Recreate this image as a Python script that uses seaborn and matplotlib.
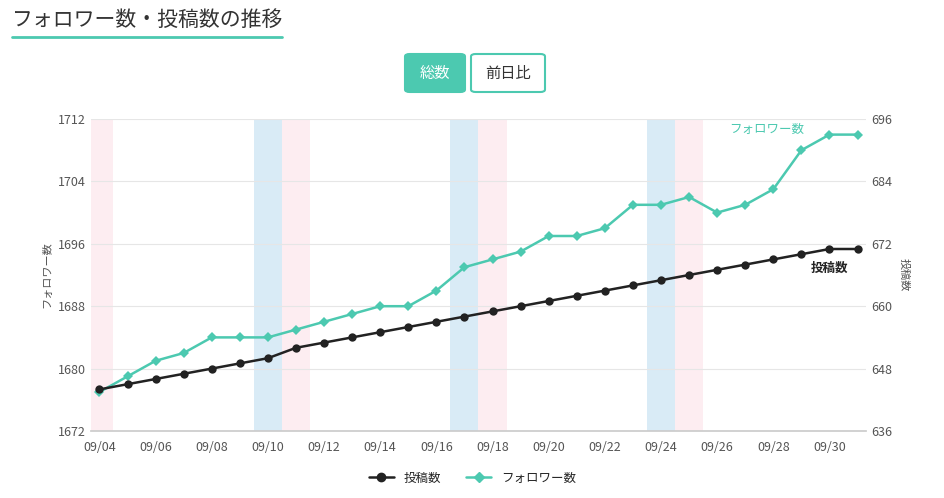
import pandas as pd
import numpy as np
import matplotlib
matplotlib.use('Agg')
import matplotlib.pyplot as plt
import seaborn as sns
from matplotlib.patches import FancyBboxPatch

# data (2022-09-04 .. 2022-10-01)
dates = pd.date_range('2022-09-04', '2022-10-01', freq='D')
followers = [1677, 1679, 1681, 1682, 1684, 1684, 1684, 1685, 1686, 1687, 1688, 1688, 1690, 1693,
             1694, 1695, 1697, 1697, 1698, 1701, 1701, 1702, 1700, 1701, 1703, 1708, 1710, 1710]
posts = [644, 645, 646, 647, 648, 649, 650, 652, 653, 654, 655, 656, 657, 658,
         659, 660, 661, 662, 663, 664, 665, 666, 667, 668, 669, 670, 671, 671]

teal = '#4cc9b0'
dark = '#222222'

sns.set_theme(style='white')
plt.rcParams['font.family'] = ['Noto Sans CJK JP', 'DejaVu Sans']

df = pd.DataFrame({'i': np.arange(len(dates)), 'followers': followers, 'posts': posts})

fig = plt.figure(figsize=(9.45, 4.98), dpi=100)
ax = fig.add_axes([91/945, 1-431/498, (866-91)/945, (431-119)/498])
ax2 = ax.twinx()

# weekend bands: Saturday blue, Sunday pink (the last day is not shaded in the reference)
for k, d in enumerate(dates[:-1]):
    if d.dayofweek == 5:
        ax.axvspan(k-0.5, k+0.5, color='#d9ebf6', lw=0, zorder=0)
    elif d.dayofweek == 6:
        ax.axvspan(k-0.5, k+0.5, color='#fdedf1', lw=0, zorder=0)

sns.lineplot(data=df, x='i', y='followers', ax=ax, color=teal, marker='D', markersize=5,
             markeredgewidth=0, lw=1.8, zorder=3)
sns.lineplot(data=df, x='i', y='posts', ax=ax2, color=dark, marker='o', markersize=6,
             markeredgewidth=0, lw=1.8, zorder=3)

ax.set_xlim(-0.3, len(dates)-0.7)
ax.set_ylim(1672, 1712)
ax.set_yticks(range(1672, 1713, 8))
ax2.set_ylim(636, 696)
ax2.set_yticks(range(636, 697, 12))
ax.set_xticks(range(0, len(dates), 2))
ax.set_xticklabels([d.strftime('%m/%d') for d in dates[::2]])
ax.grid(axis='y', color='#e6e6e6', lw=0.8)
ax.set_axisbelow(True)
for a in (ax, ax2):
    for s in a.spines.values():
        s.set_visible(False)
    a.tick_params(labelsize=9, colors='#555555', length=0)
ax.spines['bottom'].set_visible(True)
ax.spines['bottom'].set_color('#cccccc')
ax.tick_params(axis='x', length=4, color='#cccccc')
ax.set_xlabel('')
ax.set_ylabel('フォロワー数', fontsize=8, color='#555555')
ax2.set_ylabel('投稿数', fontsize=8, color='#555555', rotation=270, labelpad=12)
ax2.set_zorder(ax.get_zorder()+1)
ax2.patch.set_visible(False)

ax.annotate('フォロワー数', (26, followers[26]), xytext=(-18, 4), textcoords='offset points',
            ha='right', va='center', color=teal, fontsize=9)
ax2.annotate('投稿数', (26, posts[26]), xytext=(0, -14), textcoords='offset points',
             ha='center', va='center', color=dark, fontsize=9, fontweight='bold')

# legend
h1 = plt.Line2D([], [], color=dark, marker='o', markersize=6, lw=1.8)
h2 = plt.Line2D([], [], color=teal, marker='D', markersize=5, lw=1.8)
fig.legend([h1, h2], ['投稿数', 'フォロワー数'], loc='center', bbox_to_anchor=(0.5, 1-478/498),
           ncol=2, frameon=False, fontsize=9, handlelength=2, columnspacing=2)

# title with underline
fig.text(12/945, 1-20/498, 'フォロワー数・投稿数の推移', fontsize=15, color='#333333', va='center')
fig.add_artist(plt.Line2D([12/945, 282/945], [1-37/498, 1-37/498], color=teal, lw=2))

# buttons
b1 = FancyBboxPatch((405/945, 1-92/498), 60/945, 38/498, boxstyle='round,pad=0,rounding_size=0.005',
                    transform=fig.transFigure, fc=teal, ec=teal, lw=1.5)
b2 = FancyBboxPatch((471/945, 1-92/498), 74/945, 38/498, boxstyle='round,pad=0,rounding_size=0.005',
                    transform=fig.transFigure, fc='white', ec=teal, lw=1.5)
fig.add_artist(b1)
fig.add_artist(b2)
fig.text(435/945, 1-73/498, '総数', ha='center', va='center', color='white', fontsize=11)
fig.text(508/945, 1-73/498, '前日比', ha='center', va='center', color='#333333', fontsize=11)

fig.savefig('out.png', dpi=100)
